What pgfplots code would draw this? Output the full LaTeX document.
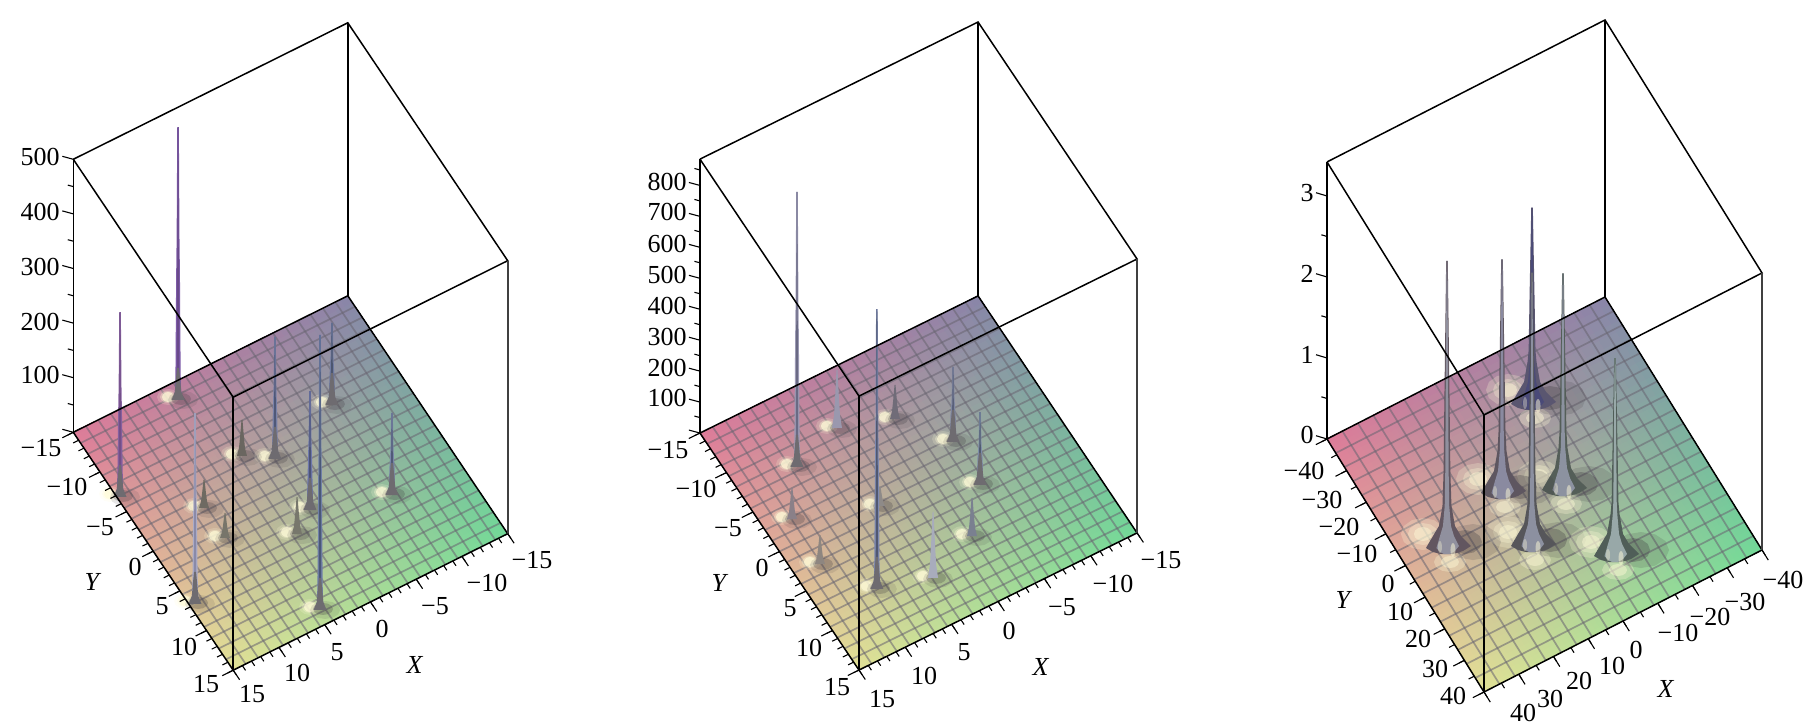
\documentclass[border=0pt]{standalone}
\usepackage{fontspec}
\setmainfont{Liberation Serif}
\usepackage{pgfplots}
\usepackage{pgfplotstable}
\usepgfplotslibrary{patchplots}
\pgfplotsset{compat=1.18}
\definecolor{cL}{HTML}{DE7C99}
\definecolor{cB}{HTML}{8A86A8}
\definecolor{cR}{HTML}{72D998}
\definecolor{cN}{HTML}{E2E296}
\definecolor{glow}{HTML}{FFFBD8}
\definecolor{shad}{HTML}{3E3A40}
\definecolor{gridc}{HTML}{6A6672}
% unit circle for soft blobs
\pgfplotstableread{
u v w
1 0 0
.87 .5 0
.5 .87 0
0 1 0
-.5 .87 0
-.87 .5 0
-1 0 0
-.87 -.5 0
-.5 -.87 0
0 -1 0
.5 -.87 0
.87 -.5 0
}\unitblob
% spike outlines: half width in px, fraction of the height, px above the base
\pgfplotstableread{
u f v
-4 0 -1
-3 0 8
-2.6 0 25
-1.9 .45 0
-1.4 .6 0
-.8 1 0
.8 1 0
1.4 .6 0
1.9 .45 0
2.6 0 25
3 0 8
4 0 -1
}\tallspike
\pgfplotstableread{
u f v
-5 0 -1
-3 .2 0
-1.8 .55 0
-.5 1 0
.5 1 0
1.8 .55 0
3 .2 0
5 0 -1
}\shortspike
\pgfplotstableread{
u f v
-6.5 0 -2
-3.2 0 6
-2.2 0 18
-1 0 30
1 0 30
2.2 0 18
3.2 0 6
6.5 0 -2
}\conef
\pgfplotstableread{
u f v
-21 0 -6
-14 0 6
-8 0 16
-4.5 0 36
-3.4 .25 0
-2.6 .5 0
-.8 1 0
.8 1 0
2.6 .5 0
3.4 .25 0
4.5 0 36
8 0 16
14 0 6
24 0 -4
16 0 -9
6 0 -12
-6 0 -12
-14 0 -10
}\skirt
\newcommand\hexc[1]{\xglobal\definecolor{h#1}{HTML}{#1}}
\newcommand\blobat[8]{\addplot3[draw=none,fill=#7,fill opacity=#8,forget plot] table[x expr={#1+(\thisrow{u}*#5+#3)*\hx},y expr={#2+(\thisrow{u}*#5+#3)*\hy},z expr={(\thisrow{v}*#6+#4)*\zs}] {\unitblob};}
\newcommand\spk[6]{\addplot3[draw=none,fill=#5,forget plot] table[x expr={#1+\thisrow{u}*#6*\hx},y expr={#2+\thisrow{u}*#6*\hy},z expr={\thisrow{f}*#3+\thisrow{v}*\zs}] {#4};}
\newcommand\halo[2]{%
 \blobat{#1}{#2}{-10}{1}{11}{8}{glow}{.2}%
 \blobat{#1}{#2}{-10}{1}{8}{6}{glow}{.35}%
 \blobat{#1}{#2}{-10}{1}{6}{5}{glow}{.7}%
 \blobat{#1}{#2}{5}{-2}{15}{9}{shad}{.12}%
 \blobat{#1}{#2}{3}{-1}{10}{6}{shad}{.25}}
\newcommand\peakT[5]{\hexc{#4}\hexc{#5}\halo{#1}{#2}\spk{#1}{#2}{#3}{\tallspike}{h#4}{1}\spk{#1}{#2}{#3}{\tallspike}{h#5}{.45}\spk{#1}{#2}{0}{\conef}{shad!75}{1}}
\newcommand\peakS[4]{\hexc{#4}\halo{#1}{#2}\spk{#1}{#2}{#3}{\shortspike}{h#4}{1}}
\newcommand\peakB[5]{\hexc{#4}\hexc{#5}%
 \blobat{#1}{#2}{-24}{8}{22}{16}{glow}{.25}%
 \blobat{#1}{#2}{-24}{8}{15}{11}{glow}{.3}%
 \blobat{#1}{#2}{-24}{8}{9}{7}{glow}{.45}%
 \blobat{#1}{#2}{3}{-20}{16}{10}{glow}{.3}%
 \blobat{#1}{#2}{3}{-20}{9}{6}{glow}{.45}%
 \blobat{#1}{#2}{26}{0}{28}{18}{shad}{.16}%
 \blobat{#1}{#2}{18}{0}{17}{12}{shad}{.3}%
 \spk{#1}{#2}{#3}{\skirt}{h#4}{1}%
 \spk{#1}{#2}{#3}{\skirt}{h#5}{.5}%
 \blobat{#1}{#2}{6}{-8}{2.5}{7}{glow}{.5}%
 \blobat{#1}{#2}{-7}{-5}{2}{6}{glow}{.35}}
% floor, grid, frame, ticks
\newcommand\floorgrid[2]{%
 \addplot3[patch,patch type=bilinear,shader=interp,mesh/color input=explicit,point meta=explicit symbolic,forget plot] coordinates {
 (#1,-#1,0) [color=cL] (#1,#1,0) [color=cN] (-#1,#1,0) [color=cR] (-#1,-#1,0) [color=cB]};
 \pgfplotsinvokeforeach{#2}{%
  \addplot3[gridc,line width=.85pt,opacity=.56,forget plot] coordinates {(##1,-#1,0) (##1,#1,0)};
  \addplot3[gridc,line width=.85pt,opacity=.56,forget plot] coordinates {(-#1,##1,0) (#1,##1,0)};}}
\newcommand\cubeframe[2]{%
 \addplot3[black,line width=.75pt,forget plot] coordinates {(#1,-#1,0) (#1,#1,0) (-#1,#1,0) (-#1,-#1,0) (#1,-#1,0)};
 \addplot3[black,line width=.75pt,forget plot] coordinates {(#1,-#1,#2) (#1,#1,#2) (-#1,#1,#2) (-#1,-#1,#2) (#1,-#1,#2)};
 \addplot3[black,line width=.75pt,forget plot] coordinates {(#1,-#1,0) (#1,-#1,#2)};
 \addplot3[black,line width=.75pt,forget plot] coordinates {(#1,#1,0) (#1,#1,#2)};
 \addplot3[black!75,line width=1pt,forget plot] coordinates {(-#1,#1,0) (-#1,#1,#2)};
 \addplot3[black,line width=.75pt,forget plot] coordinates {(-#1,-#1,0) (-#1,-#1,#2)};}
\newcommand\lf{\fontsize{13}{15}\selectfont}
\newcommand\lab[3]{\node[font=\lf,inner sep=0pt] at ({#1*0.5pt},{(726-#2)*0.5pt}) {#3};}
\newcommand\labr[3]{\node[font=\lf,inner sep=0pt,anchor=east] at ({#1*0.5pt},{(726-#2)*0.5pt}) {#3};}
\newcommand\gridA{-13.636,-12.273,-10.909,-9.545,-8.182,-6.818,-5.455,-4.091,-2.727,-1.364,0,1.364,2.727,4.091,5.455,6.818,8.182,9.545,10.909,12.273,13.636}
\newcommand\gridB{-35.556,-31.111,-26.667,-22.222,-17.778,-13.333,-8.889,-4.444,0,4.444,8.889,13.333,17.778,22.222,26.667,31.111,35.556}
\begin{document}%
\begin{tikzpicture}
\pgfplotsset{panel/.style={hide axis,clip=false,disabledatascaling,anchor=origin}}
% ---------- panel 1
\begin{axis}[panel,at={(145.25pt,121.5pt)},x={(-4.575pt,-2.275pt)},y={(2.665pt,-3.965pt)},z={(0pt,.273pt)},xmin=-15,xmax=15,ymin=-15,ymax=15,zmin=0,zmax=500]
\def\hx{-.0819}\def\hy{.0470}\def\zs{1.832}
\floorgrid{15}{-13.636,-12.273,-10.909,-9.545,-8.182,-6.818,-5.455,-4.091,-2.727,-1.364,0,1.364,2.727,4.091,5.455,6.818,8.182,9.545,10.909,12.273,13.636}
\peakT{-7.80}{-5.61}{147}{6F7AA0}{4C5670}
\peakT{4.53}{-13.32}{496}{7C5AA8}{6A4A8A}
\peakT{-.16}{-3.19}{220}{7A82A8}{4F5878}
\peakS{2.43}{-4.93}{64}{6A6660}
\peakT{14.62}{-6.88}{335}{85609F}{734F88}
\peakS{8.40}{-1.80}{50}{6E6A62}
\peakT{-7.76}{5.72}{147}{7A86A8}{505A78}
\peakT{-.22}{3.28}{214}{6E78AC}{4C5478}
\peakS{8.33}{2.02}{44}{77756A}
\peakS{2.22}{5.04}{66}{77776C}
\peakT{14.37}{6.76}{346}{ABABC6}{8A8AA8}
\peakT{4.46}{13.2}{500}{7080A8}{4A5878}
\cubeframe{15}{500}
\pgfplotsinvokeforeach{-15,-14,...,15}{%
 \addplot3[black,line width=.55pt,forget plot] coordinates {(15,#1,0) (15.6,#1,0)};
 \addplot3[black,line width=.55pt,forget plot] coordinates {(#1,15,0) (#1,15.6,0)};}
\pgfplotsinvokeforeach{-15,-10,...,15}{%
 \addplot3[black,line width=.55pt,forget plot] coordinates {(15,#1,0) (16.2,#1,0)};
 \addplot3[black,line width=.55pt,forget plot] coordinates {(#1,15,0) (#1,16.2,0)};}
\pgfplotsinvokeforeach{0,100,...,500}{%
 \addplot3[black,line width=.55pt,forget plot] coordinates {(15,-15,#1) (15.735,-15.8,#1)};}
\pgfplotsinvokeforeach{50,150,...,450}{%
 \addplot3[black,line width=.55pt,forget plot] coordinates {(15,-15,#1) (15.37,-15.4,#1)};}
\end{axis}
\labr{60}{157}{500}\labr{60}{212}{400}\labr{60}{267}{300}\labr{60}{322}{200}\labr{60}{375}{100}
\lab{41}{448}{−15}\lab{67}{487}{−10}\lab{100}{527}{−5}\lab{135}{567}{0}\lab{162}{606}{5}\lab{184}{647}{10}\lab{206}{684}{15}
\lab{93}{582}{\textit{Y}}
\lab{252}{694}{15}\lab{297}{673}{10}\lab{337}{652}{5}\lab{382}{629}{0}\lab{435}{606}{−5}\lab{487}{583}{−10}\lab{532}{560}{−15}
\lab{415}{665}{\textit{X}}
% ---------- panel 2
\begin{axis}[panel,at={(459.25pt,121.5pt)},x={(-4.635pt,-2.285pt)},y={(2.65pt,-3.95pt)},z={(0pt,.15475pt)},xmin=-15,xmax=15,ymin=-15,ymax=15,zmin=0,zmax=885]
\def\hx{-.0811}\def\hy{.0469}\def\zs{3.231}
\floorgrid{15}{-13.636,-12.273,-10.909,-9.545,-8.182,-6.818,-5.455,-4.091,-2.727,-1.364,0,1.364,2.727,4.091,5.455,6.818,8.182,9.545,10.909,12.273,13.636}
\peakS{-1.63}{-7.28}{107}{706C78}
\peakS{3.56}{-9.15}{184}{9A98AE}
\peakT{-5.14}{-2.47}{236}{7F86A0}{59607A}
\peakT{8.87}{-7.41}{882}{9C9AB4}{6A6A84}
\peakT{-4.99}{2.88}{229}{7E8CA8}{505C70}
\peakS{4.32}{.28}{60}{8E8A88}
\peakS{12.16}{-2.60}{97}{8A8088}
\peakS{-1.51}{7.46}{120}{7A8090}
\peakS{12.34}{2.99}{90}{8E8680}
\peakS{3.93}{9.62}{210}{A8ACBC}
\peakT{9.03}{7.94}{898}{7C88B0}{505870}
\cubeframe{15}{885}
\pgfplotsinvokeforeach{-15,-14,...,15}{%
 \addplot3[black,line width=.55pt,forget plot] coordinates {(15,#1,0) (15.6,#1,0)};
 \addplot3[black,line width=.55pt,forget plot] coordinates {(#1,15,0) (#1,15.6,0)};}
\pgfplotsinvokeforeach{-15,-10,...,15}{%
 \addplot3[black,line width=.55pt,forget plot] coordinates {(15,#1,0) (16.2,#1,0)};
 \addplot3[black,line width=.55pt,forget plot] coordinates {(#1,15,0) (#1,16.2,0)};}
\pgfplotsinvokeforeach{0,100,...,800}{%
 \addplot3[black,line width=.55pt,forget plot] coordinates {(15,-15,#1) (15.735,-15.8,#1)};}
\pgfplotsinvokeforeach{50,150,...,850}{%
 \addplot3[black,line width=.55pt,forget plot] coordinates {(15,-15,#1) (15.37,-15.4,#1)};}
\end{axis}
\labr{687}{182}{800}\labr{687}{212}{700}\labr{687}{244}{600}\labr{687}{275}{500}\labr{687}{306}{400}\labr{687}{337}{300}\labr{687}{368}{200}\labr{687}{398}{100}
\lab{668}{450}{−15}\lab{696}{489}{−10}\lab{728}{528}{−5}\lab{762}{568}{0}\lab{790}{608}{5}\lab{809}{648}{10}\lab{837}{687}{15}
\lab{720}{583}{\textit{Y}}
\lab{882}{699}{15}\lab{924}{676}{10}\lab{964}{652}{5}\lab{1009}{631}{0}\lab{1062}{607}{−5}\lab{1113}{584}{−10}\lab{1161}{560}{−15}
\lab{1041}{667}{\textit{X}}
% ---------- panel 3
\begin{axis}[panel,at={(772.25pt,115.75pt)},x={(-1.7375pt,-.8875pt)},y={(.98125pt,-1.58125pt)},z={(0pt,40.5pt)},xmin=-40,xmax=40,ymin=-40,ymax=40,zmin=0,zmax=3.42]
\def\hx{-.2186}\def\hy{.1227}\def\zs{.012346}
\floorgrid{40}{-35.556,-31.111,-26.667,-22.222,-17.778,-13.333,-8.889,-4.444,0,4.444,8.889,13.333,17.778,22.222,26.667,31.111,35.556}
\peakB{-10.36}{-24.7}{2.35}{5A5670}{4A4A78}
\peakB{-5.46}{-.25}{2.60}{545E58}{8C92A0}
\peakB{8.27}{-7.01}{2.81}{5E5660}{8A8AA0}
\peakB{8.90}{9.40}{3.30}{56565A}{8C90A0}
\peakB{27.76}{-.55}{3.47}{625660}{90909E}
\peakB{-7.88}{21.98}{2.37}{505E58}{98A8A8}
\cubeframe{40}{3.42}
\pgfplotsinvokeforeach{-40,-35,...,40}{%
 \addplot3[black,line width=.55pt,forget plot] coordinates {(40,#1,0) (41.6,#1,0)};
 \addplot3[black,line width=.55pt,forget plot] coordinates {(#1,40,0) (#1,41.6,0)};}
\pgfplotsinvokeforeach{-40,-30,...,40}{%
 \addplot3[black,line width=.55pt,forget plot] coordinates {(40,#1,0) (43.2,#1,0)};
 \addplot3[black,line width=.55pt,forget plot] coordinates {(#1,40,0) (#1,43.2,0)};}
\pgfplotsinvokeforeach{0,1,2,3}{%
 \addplot3[black,line width=.55pt,forget plot] coordinates {(40,-40,#1) (41.96,-42.13,#1)};}
\pgfplotsinvokeforeach{.5,1.5,2.5}{%
 \addplot3[black,line width=.55pt,forget plot] coordinates {(40,-40,#1) (41,-41.1,#1)};}
\end{axis}
\lab{1307}{193}{3}\lab{1307}{274}{2}\lab{1307}{355}{1}\lab{1307}{435}{0}
\lab{1304}{471}{−40}\lab{1322}{500}{−30}\lab{1339}{527}{−20}\lab{1357}{554}{−10}\lab{1388}{584}{0}\lab{1400}{612}{10}\lab{1418}{639}{20}\lab{1435}{669}{30}\lab{1453}{696}{40}
\lab{1344}{600}{\textit{Y}}
\lab{1523}{713}{40}\lab{1550}{699}{30}\lab{1579}{681}{20}\lab{1612}{666}{10}\lab{1636}{650}{0}\lab{1678}{633}{−10}\lab{1710}{617}{−20}\lab{1745}{602}{−30}\lab{1783}{580}{−40}
\lab{1666}{689}{\textit{X}}
\pgfresetboundingbox
\path[use as bounding box] (0,0) rectangle (904.5pt,363pt);
\end{tikzpicture}%
\end{document}
